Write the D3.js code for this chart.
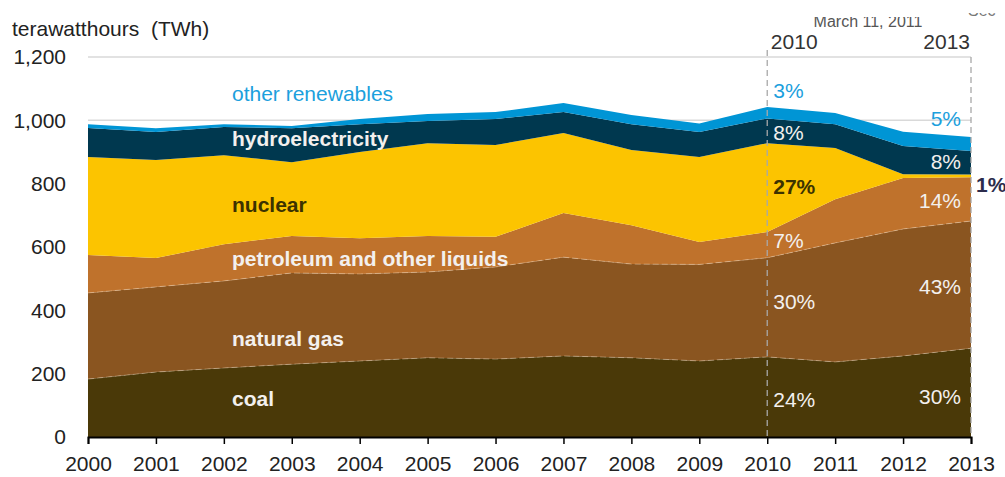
<!DOCTYPE html>
<html>
<head>
<meta charset="utf-8">
<script src="https://cdn.jsdelivr.net/npm/d3@7"></script>
<style>
  body { margin: 0; background: #fff; }
  svg { display: block; font-family: Arial, "Liberation Sans", sans-serif; }
</style>
</head>
<body>
<svg id="chart" width="1005" height="477"></svg>
<script>
// Japan electricity generation by fuel, TWh
const years = [2000, 2001, 2002, 2003, 2004, 2005, 2006, 2007, 2008, 2009, 2010, 2011, 2012, 2013];
const coal = [183, 205, 218, 230, 240, 250, 246, 256, 250, 240, 253, 237, 256, 280];
const naturalGas = [272, 269, 275, 288, 275, 271, 291, 312, 296, 305, 313, 376, 401, 402];
const petroleum = [120, 91, 116, 117, 113, 114, 95, 139, 123, 71, 81, 138, 161, 138];
const nuclear = [309, 310, 281, 233, 272, 293, 290, 253, 237, 268, 281, 162, 12, 9];
const hydro = [92, 88, 89, 107, 88, 70, 82, 66, 82, 79, 78, 75, 89, 74];
const otherRenewables = [12, 12, 9, 7, 16, 22, 22, 29, 29, 27, 36, 35, 45, 44];

const seriesKeys = ['coal', 'gas', 'petroleum', 'nuclear', 'hydro', 'other'];
const seriesNames = ['coal', 'natural gas', 'petroleum and other liquids', 'nuclear', 'hydroelectricity', 'other renewables'];
const yTicks = [0, 200, 400, 600, 800, 1000, 1200];
const share2010 = ['24%', '30%', '7%', '27%', '8%', '3%'];
const share2013 = ['30%', '43%', '14%', '1%', '8%', '5%'];

const colors = {
  coal: '#4a3908', gas: '#8a5520', petroleum: '#bf722c',
  nuclear: '#fcc400', hydro: '#00384f', other: '#0095d5'
};

const rows = years.map((yr, i) => ({
  year: yr, coal: coal[i], gas: naturalGas[i], petroleum: petroleum[i],
  nuclear: nuclear[i], hydro: hydro[i], other: otherRenewables[i]
}));

const svg = d3.select('#chart');
const x = d3.scaleLinear().domain([2000, 2013]).range([88, 971]);
const y = d3.scaleLinear().domain([0, 1200]).range([437, 57]);

// gridlines
svg.append('g').selectAll('line')
  .data(yTicks.filter(d => d > 0))
  .join('line')
  .attr('x1', x(2000)).attr('x2', x(2013))
  .attr('y1', d => y(d)).attr('y2', d => y(d))
  .attr('stroke', '#d9d9d9').attr('stroke-width', 1.5);

const stacked = d3.stack().keys(seriesKeys)(rows);
const area = d3.area()
  .x(d => x(d.data.year))
  .y0(d => y(d[0]))
  .y1(d => y(d[1]));

svg.append('g').selectAll('path')
  .data(stacked)
  .join('path')
  .attr('d', area)
  .attr('fill', d => colors[d.key]);

// faint separators on the fossil layers
const topLine = d3.line().x(d => x(d.data.year)).y(d => y(d[1]));
svg.append('g').selectAll('path')
  .data(stacked.slice(0, 2))
  .join('path')
  .attr('d', topLine)
  .attr('fill', 'none')
  .attr('stroke', 'rgba(255,235,210,0.35)')
  .attr('stroke-width', 1)
  .attr('stroke-dasharray', '6,3');

// dashed markers at 2010 and 2013
svg.append('line')
  .attr('x1', x(2010)).attr('x2', x(2010)).attr('y1', 50).attr('y2', y(0))
  .attr('stroke', '#a8a8a8').attr('stroke-width', 1.3).attr('stroke-dasharray', '6,4');
svg.append('line')
  .attr('x1', x(2013)).attr('x2', x(2013)).attr('y1', y(1200)).attr('y2', y(0))
  .attr('stroke', '#a8a8a8').attr('stroke-width', 1.3).attr('stroke-dasharray', '6,4');

// axes
const xAxis = svg.append('g')
  .attr('transform', `translate(0,${y(0)})`)
  .call(d3.axisBottom(x).tickValues(years).tickFormat(d3.format('d')).tickSize(7).tickPadding(12));
xAxis.select('.domain').attr('stroke', '#000').attr('stroke-width', 2);
xAxis.selectAll('.tick line').attr('stroke', '#000').attr('stroke-width', 1.5);
xAxis.selectAll('text').attr('font-size', 21).attr('fill', '#222').attr('font-family', 'Arial, "Liberation Sans", sans-serif');

const yAxis = svg.append('g')
  .attr('transform', `translate(${x(2000)},0)`)
  .call(d3.axisLeft(y).tickValues(yTicks).tickFormat(d3.format(',')).tickSize(0).tickPadding(22));
yAxis.select('.domain').remove();
yAxis.selectAll('text').attr('font-size', 21).attr('fill', '#222').attr('font-family', 'Arial, "Liberation Sans", sans-serif');

// titles
svg.append('text').attr('x', 12).attr('y', 36)
  .attr('font-size', 21).attr('fill', '#222')
  .text('terawatthours\u00a0\u00a0(TWh)');

// notes cut off at the top edge, as in the source
const defs = svg.append('defs');
defs.append('clipPath').attr('id', 'clipA')
  .append('rect').attr('x', 780).attr('y', 17).attr('width', 180).attr('height', 20);
defs.append('clipPath').attr('id', 'clipB')
  .append('rect').attr('x', 960).attr('y', 13).attr('width', 45).attr('height', 10);
svg.append('text').attr('clip-path', 'url(#clipA)')
  .attr('x', 868).attr('y', 27).attr('text-anchor', 'middle')
  .attr('font-size', 16).attr('fill', '#555').text('March 11, 2011');
svg.append('text').attr('clip-path', 'url(#clipB)')
  .attr('x', 968).attr('y', 16)
  .attr('font-size', 16).attr('fill', '#777').text('Sec');

svg.append('text').attr('x', x(2010) + 27).attr('y', 49).attr('text-anchor', 'middle')
  .attr('font-size', 21).attr('fill', '#333').text('2010');
svg.append('text').attr('x', x(2013) - 1).attr('y', 49).attr('text-anchor', 'end')
  .attr('font-size', 21).attr('fill', '#333').text('2013');

// series labels
const labelY = [406, 346, 266, 212, 146, 101];
const labelFill = ['#f3f0ee', '#f3f0ee', '#f3f0ee', '#3c3200', '#f3f0ee', '#1ba0dd'];
svg.append('g').selectAll('text')
  .data(seriesNames)
  .join('text')
  .attr('x', 232)
  .attr('y', (d, i) => labelY[i])
  .attr('font-size', 21)
  .attr('font-weight', (d, i) => i === 5 ? 'normal' : 'bold')
  .attr('fill', (d, i) => labelFill[i])
  .text(d => d);

// share labels 2010
const y2010 = [407, 309, 248, 194, 140, 98];
const shareFill = ['#f3f0ee', '#f3f0ee', '#f3f0ee', '#3c3200', '#f3f0ee', '#1ba0dd'];
svg.append('g').selectAll('text')
  .data(share2010)
  .join('text')
  .attr('x', x(2010) + 6)
  .attr('y', (d, i) => y2010[i])
  .attr('font-size', 21)
  .attr('font-weight', (d, i) => i === 3 ? 'bold' : 'normal')
  .attr('fill', (d, i) => shareFill[i])
  .text(d => d);

// share labels 2013
const y2013 = [404, 294, 208, 192, 169, 126];
svg.append('g').selectAll('text')
  .data(share2013)
  .join('text')
  .attr('x', (d, i) => i === 3 ? x(2013) + 5 : x(2013) - 10)
  .attr('y', (d, i) => y2013[i])
  .attr('text-anchor', (d, i) => i === 3 ? 'start' : 'end')
  .attr('font-size', 21)
  .attr('font-weight', (d, i) => i === 3 ? 'bold' : 'normal')
  .attr('fill', (d, i) => i === 3 ? '#2c2c4c' : shareFill[i])
  .text(d => d);
</script>
</body>
</html>
